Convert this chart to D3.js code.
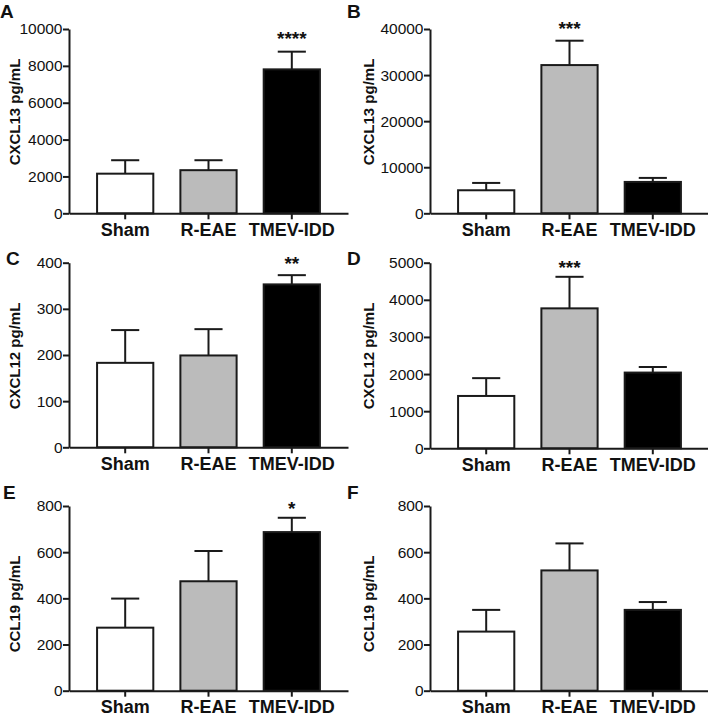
<!DOCTYPE html>
<html lang="en">
    <head>
        <meta charset="utf-8" />
        <script src="https://cdn.jsdelivr.net/npm/d3@7"></script>
        <style>
            body { margin: 0; background: #fff; }
            text { font-family: "Liberation Sans", Arial, Helvetica, sans-serif; fill: #111; }
            .tick text { font-size: 15.5px; }
            .xaxis .tick text { font-size: 18px; font-weight: bold; }
            .ylabel { font-size: 15px; font-weight: bold; }
            .letter { font-size: 19px; font-weight: bold; }
            .stars { font-size: 19px; font-weight: bold; }
        </style>
    </head>
    <body>
        <script>
            // groups
            var categories = ["Sham", "R-EAE", "TMEV-IDD"];
            var fills = ["#ffffff", "#bbbbbb", "#000000"];

            // one entry per panel, A..F
            var letters = ["A", "B", "C", "D", "E", "F"];
            var yLabels = ["CXCL13 pg/mL", "CXCL13 pg/mL", "CXCL12 pg/mL", "CXCL12 pg/mL", "CCL19 pg/mL", "CCL19 pg/mL"];
            var means = [
                [2150, 2340, 7810],
                [5000, 32170, 6810],
                [183, 199, 353],
                [1410, 3770, 2040],
                [273, 474, 687],
                [256, 521, 350]
            ];
            var errTops = [
                [2880, 2880, 8770],
                [6590, 37460, 7680],
                [254, 256, 373],
                [1890, 4620, 2190],
                [399, 605, 749],
                [350, 638, 384]
            ];
            var yTicks = [
                [0, 2000, 4000, 6000, 8000, 10000],
                [0, 10000, 20000, 30000, 40000],
                [0, 100, 200, 300, 400],
                [0, 1000, 2000, 3000, 4000, 5000],
                [0, 200, 400, 600, 800],
                [0, 200, 400, 600, 800]
            ];
            // significance marks: which group, text, and the value level they sit at
            var stars = [
                { group: 2, text: "****", level: 9700 },
                { group: 1, text: "***", level: 40870 },
                { group: 2, text: "**", level: 406 },
                { group: 1, text: "***", level: 4990 },
                { group: 2, text: "*", level: 808 },
                null
            ];

            var width = 708, height = 719;

            // layout of each panel (pixels)
            var layout = [
                { ax: 69, top: 29, bottom: 213.3, labelX: 15, labelY: 112, letterX: 0, letterY: 18 },
                { ax: 430, top: 29, bottom: 213.3, labelX: 369, labelY: 112, letterX: 347, letterY: 18 },
                { ax: 69, top: 262.7, bottom: 447.3, labelX: 15, labelY: 356, letterX: 6, letterY: 265 },
                { ax: 430, top: 262.7, bottom: 448.3, labelX: 369, labelY: 356, letterX: 347, letterY: 265 },
                { ax: 69, top: 506, bottom: 690.7, labelX: 15, labelY: 604, letterX: 3, letterY: 499 },
                { ax: 430, top: 506, bottom: 690.7, labelX: 369, labelY: 604, letterX: 347, letterY: 499 }
            ];

            var svg = d3.select("body").append("svg")
                .attr("width", width)
                .attr("height", height);

            var ink = "#1a1a1a";

            function drawPanel(i) {
                var L = layout[i];
                var g = svg.append("g");

                var y = d3.scaleLinear()
                    .domain([0, d3.max(yTicks[i])])
                    .range([L.bottom, L.top]);

                var x = d3.scaleBand()
                    .domain(categories)
                    .range([L.ax, L.ax + 279])
                    .paddingInner(0.325)
                    .paddingOuter(0.337);

                var bw = x.bandwidth();

                // bars
                g.selectAll("rect.bar")
                    .data(categories)
                    .enter().append("rect")
                    .attr("class", "bar")
                    .attr("x", function (d) { return x(d); })
                    .attr("y", function (d, j) { return y(means[i][j]); })
                    .attr("width", bw)
                    .attr("height", function (d, j) { return L.bottom - y(means[i][j]); })
                    .attr("fill", function (d, j) { return fills[j]; })
                    .attr("stroke", ink)
                    .attr("stroke-width", 2);

                // error bars (upper only)
                var eb = g.selectAll("g.err")
                    .data(categories)
                    .enter().append("g")
                    .attr("class", "err")
                    .attr("stroke", ink)
                    .attr("stroke-width", 2);

                eb.append("line")
                    .attr("x1", function (d) { return x(d) + bw / 2; })
                    .attr("x2", function (d) { return x(d) + bw / 2; })
                    .attr("y1", function (d, j) { return y(means[i][j]); })
                    .attr("y2", function (d, j) { return y(errTops[i][j]); });

                eb.append("line")
                    .attr("x1", function (d) { return x(d) + bw / 4; })
                    .attr("x2", function (d) { return x(d) + bw * 3 / 4; })
                    .attr("y1", function (d, j) { return y(errTops[i][j]); })
                    .attr("y2", function (d, j) { return y(errTops[i][j]); });

                // axes
                var yAxis = g.append("g")
                    .attr("transform", "translate(" + L.ax + ",0)")
                    .call(d3.axisLeft(y).tickValues(yTicks[i]).tickSize(6).tickSizeOuter(0).tickPadding(0.5).tickFormat(d3.format("d")));

                var xAxis = g.append("g")
                    .attr("class", "xaxis")
                    .attr("transform", "translate(0," + L.bottom + ")")
                    .call(d3.axisBottom(x).tickSize(6).tickSizeOuter(0).tickPadding(3.5));

                [yAxis, xAxis].forEach(function (a) {
                    a.selectAll("path, line").attr("stroke", ink).attr("stroke-width", 2);
                    a.selectAll("text").attr("fill", "#111");
                });

                // y label
                g.append("text")
                    .attr("class", "ylabel")
                    .attr("transform", "translate(" + L.labelX + "," + L.labelY + ") rotate(-90)")
                    .attr("text-anchor", "middle")
                    .attr("dy", "0.35em")
                    .text(yLabels[i]);

                // panel letter
                g.append("text")
                    .attr("class", "letter")
                    .attr("x", L.letterX)
                    .attr("y", L.letterY)
                    .text(letters[i]);

                // significance
                var s = stars[i];
                if (s) {
                    g.append("text")
                        .attr("class", "stars")
                        .attr("text-anchor", "middle")
                        .attr("x", x(categories[s.group]) + bw / 2)
                        .attr("y", y(s.level) + 10.5)
                        .text(s.text);
                }
            }

            for (var i = 0; i < letters.length; i++) {
                drawPanel(i);
            }
        </script>
    </body>
</html>
